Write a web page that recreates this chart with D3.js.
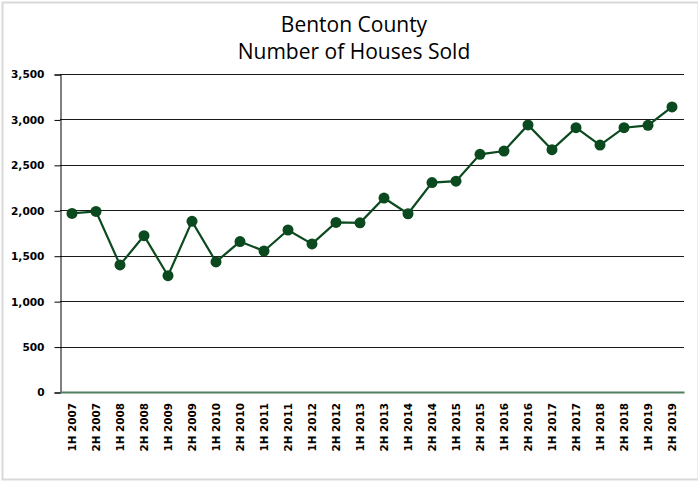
<!DOCTYPE html>
<html>
<head>
<meta charset="utf-8">
<script src="https://cdn.jsdelivr.net/npm/d3@7/dist/d3.min.js"></script>
<style>
  html, body { margin: 0; padding: 0; background: #fff; }
  svg { display: block; }
</style>
</head>
<body>
<svg id="chart" width="698" height="481"></svg>
<script>
const titleLines = ["Benton County", "Number of Houses Sold"];
const categories = [
  "1H 2007","2H 2007","1H 2008","2H 2008","1H 2009","2H 2009","1H 2010","2H 2010",
  "1H 2011","2H 2011","1H 2012","2H 2012","1H 2013","2H 2013","1H 2014","2H 2014",
  "1H 2015","2H 2015","1H 2016","2H 2016","1H 2017","2H 2017","1H 2018","2H 2018",
  "1H 2019","2H 2019"
];
const housesSold = [
  1965, 1988, 1398, 1720, 1280, 1878, 1432, 1656,
  1552, 1783, 1630, 1866, 1862, 2135, 1962, 2305,
  2320, 2616, 2652, 2939, 2667, 2909, 2718, 2909,
  2935, 3137
];
const yTicks = [0, 500, 1000, 1500, 2000, 2500, 3000, 3500];

const svg = d3.select("#chart");
const plot = { left: 60, right: 684, top: 74, bottom: 392 };

// outer border
svg.append("rect")
  .attr("x", 2.5).attr("y", 2.5)
  .attr("width", 696).attr("height", 477)
  .attr("fill", "#fff")
  .attr("stroke", "#d9d9d9").attr("stroke-width", 2);

const x = d3.scaleBand().domain(categories).range([plot.left, plot.right]).padding(0);
const y = d3.scaleLinear().domain([0, 3500]).range([plot.bottom, plot.top]);

// title
svg.append("g").selectAll("text").data(titleLines).join("text")
  .attr("x", 354).attr("y", (d, i) => 31.5 + i * 27)
  .attr("text-anchor", "middle")
  .attr("font-family", "'Open Sans', sans-serif")
  .attr("font-size", 21)
  .attr("fill", "#000")
  .text(d => d);

// gridlines
svg.append("g").selectAll("line").data(yTicks.filter(v => v > 0)).join("line")
  .attr("x1", plot.left).attr("x2", plot.right)
  .attr("y1", d => Math.round(y(d)) + 0.5).attr("y2", d => Math.round(y(d)) + 0.5)
  .attr("stroke", "#1a1a1a").attr("stroke-width", 1);

// y axis
const yAxis = d3.axisLeft(y).tickValues(yTicks).tickSize(6).tickPadding(10)
  .tickFormat(d3.format(","));
const gy = svg.append("g").attr("transform", `translate(${plot.left + 0.5},0.5)`).call(yAxis);
gy.select(".domain").attr("stroke", "#000");
gy.selectAll(".tick line").attr("stroke", "#000");
gy.selectAll(".tick text")
  .attr("font-family", "'DejaVu Sans', sans-serif")
  .attr("font-weight", "bold")
  .attr("font-size", 10.6)
  .attr("fill", "#000");

// x axis
const xAxis = d3.axisBottom(x).tickSize(0).tickPadding(0);
const gx = svg.append("g").attr("transform", `translate(0,${plot.bottom})`).call(xAxis);
gx.select(".domain").attr("stroke", "#4f7f5c").attr("stroke-width", 2);
gx.selectAll(".tick text")
  .attr("font-family", "'DejaVu Sans', sans-serif")
  .attr("font-weight", "bold")
  .attr("font-size", 10.4)
  .attr("fill", "#000")
  .attr("text-anchor", "end")
  .attr("dy", null)
  .attr("transform", "translate(4,11) rotate(-90)")
  .attr("x", 0).attr("y", 0);

// line
const cx = d => x(d) + x.bandwidth() / 2;
const data = categories.map((c, i) => ({ c, v: housesSold[i] }));
svg.append("path").datum(data)
  .attr("fill", "none")
  .attr("stroke", "#0b4a1e")
  .attr("stroke-width", 2.2)
  .attr("d", d3.line().x(d => cx(d.c)).y(d => y(d.v)));

svg.append("g").selectAll("circle").data(data).join("circle")
  .attr("cx", d => cx(d.c)).attr("cy", d => y(d.v))
  .attr("r", 5.5)
  .attr("fill", "#0b4a1e");
</script>
</body>
</html>
